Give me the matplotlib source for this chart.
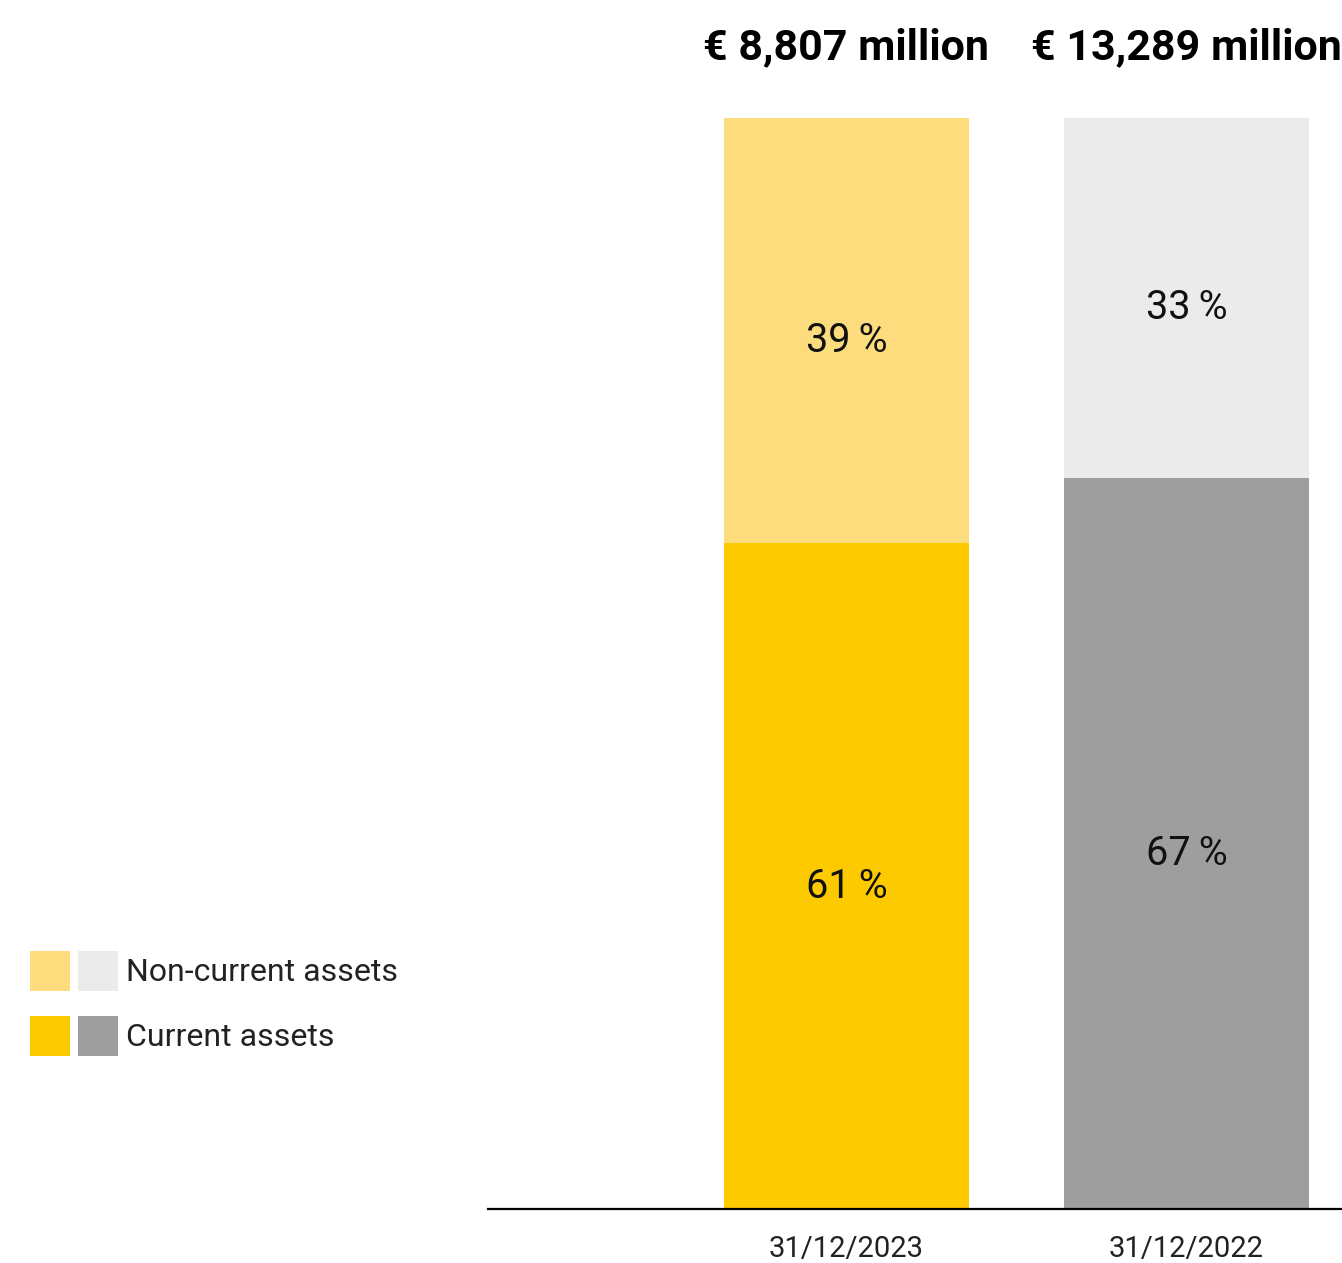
import matplotlib
matplotlib.use('Agg')
import matplotlib.pyplot as plt
from matplotlib.legend_handler import HandlerTuple

# data
dates = ['31/12/2023', '31/12/2022']
totals = ['€ 8,807 million', '€ 13,289 million']
current = [61, 67]
non_current = [39, 33]

col_cur = ['#FDCA00', '#9E9E9E']
col_non = ['#FDDC7D', '#EBEBEB']

plt.rcParams['font.family'] = ['Roboto', 'DejaVu Sans']

fig = plt.figure(figsize=(13.42, 12.63), dpi=100)
ax = fig.add_axes([488 / 1342, 1 - 1209 / 1263, 1 - 488 / 1342, (1209 - 118) / 1263])

x = [0, 1]
b_cur = ax.bar(x, current, width=0.72, color=col_cur)
b_non = ax.bar(x, non_current, bottom=current, width=0.72, color=col_non)

# percentage labels and totals
for i in x:
    ax.text(i, current[i] / 2 - 0.9, f'{current[i]}\u2009%', ha='center', va='center',
            fontsize=28.5, fontweight='normal', color='#111111')
    ax.text(i, current[i] + non_current[i] / 2 - 0.9, f'{non_current[i]}\u2009%', ha='center',
            va='center', fontsize=28.5, fontweight='normal', color='#111111')
    ax.text(i, 106.4, totals[i], ha='center', va='center', fontsize=31,
            fontweight='bold', color='black', clip_on=False)

ax.set_xlim(-1.054, 1.457)
ax.set_ylim(0, 100)
ax.set_xticks(x)
ax.set_xticklabels(dates, fontsize=21, fontweight='normal', color='#222222')
ax.tick_params(axis='x', length=0, pad=19)
ax.set_yticks([])
for s in ['top', 'left', 'right']:
    ax.spines[s].set_visible(False)
ax.spines['bottom'].set_linewidth(1.6)
ax.spines['bottom'].set_zorder(5)

handles = [(b_non[0], b_non[1]), (b_cur[0], b_cur[1])]
fig.legend(handles, ['Non-current assets', 'Current assets'],
           handler_map={tuple: HandlerTuple(ndivide=None, pad=0.25)},
           loc='upper left', bbox_to_anchor=(30 / 1342, 1 - 951 / 1263),
           frameon=False, prop={'weight': 'normal', 'size': 23},
           handlelength=2.75, handleheight=1.53, handletextpad=0.25,
           borderpad=0, borderaxespad=0, labelspacing=0.8)
for t in fig.legends[0].get_texts():
    t.set_color('#222222')

fig.savefig('out.png', dpi=100)
